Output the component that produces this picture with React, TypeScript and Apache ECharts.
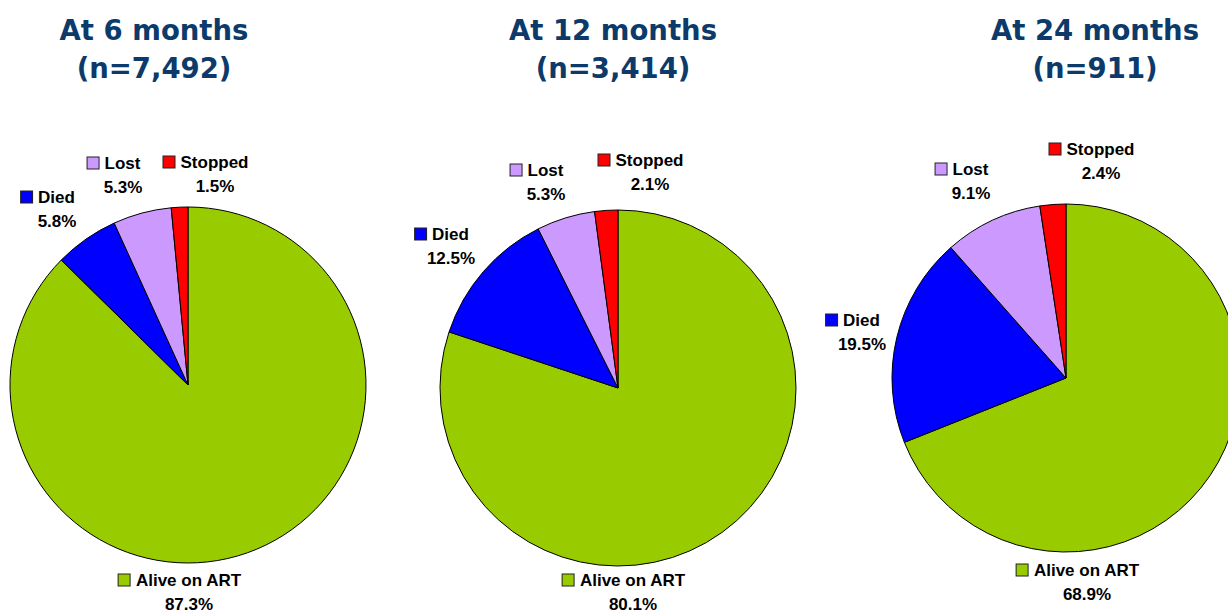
import React, { useEffect, useRef } from "react";
import * as echarts from "echarts";

const categories = ["Alive on ART", "Died", "Lost", "Stopped"];
const month6 = [87.3, 5.8, 5.3, 1.5];
const month12 = [80.1, 12.5, 5.3, 2.1];
const month24 = [68.9, 19.5, 9.1, 2.4];
const titles = ["At 6 months\n(n=7,492)", "At 12 months\n(n=3,414)", "At 24 months\n(n=911)"];
const colors = ["#99CC00", "#0000FF", "#CC99FF", "#FF0000"];

// layout (pixels)
const pies = [
  { center: [188, 385], radius: 178, titleX: 154, labels: [[180, 592], [48, 209], [114, 175], [206, 174]] },
  { center: [618, 388], radius: 178, titleX: 613, labels: [[624, 592], [442, 246], [537, 182], [641, 172]] },
  { center: [1066, 378], radius: 174, titleX: 1095, labels: [[1078, 582], [853, 332], [962, 181], [1092, 161]] },
];

const seriesData = [month6, month12, month24];

export default function App() {
  const ref = useRef<HTMLDivElement>(null);
  useEffect(() => {
    if (!ref.current) return;
    const chart = echarts.init(ref.current, null, { renderer: "svg" });
    const rich: any = {
      name: { fontSize: 17, fontWeight: "bold", fontFamily: "Liberation Sans, Arial, sans-serif", color: "#000", padding: [0, 0, 0, 6], lineHeight: 24 },
      val: { fontSize: 17, fontWeight: "bold", fontFamily: "Liberation Sans, Arial, sans-serif", color: "#000", padding: [0, 0, 0, 18], lineHeight: 24 },
    };
    colors.forEach((c, i) => {
      rich["box" + i] = { width: 11, height: 11, backgroundColor: c, borderColor: "#222", borderWidth: 1 };
    });
    chart.setOption({
      animation: false,
      backgroundColor: "#ffffff",
      title: pies.map((p, i) => ({
        text: titles[i],
        left: p.titleX,
        top: 11,
        padding: 0,
        textAlign: "center",
        textStyle: {
          fontFamily: "DejaVu Sans, Verdana, sans-serif",
          fontWeight: "bold",
          fontSize: 27.5,
          color: "#0B3A6B",
          lineHeight: 38,
        },
      })),
      series: pies.map((p, si) => ({
        type: "pie",
        center: p.center,
        radius: p.radius,
        startAngle: 90,
        clockwise: true,
        avoidLabelOverlap: false,
        itemStyle: { borderColor: "#000", borderWidth: 1 },
        label: {
          show: true,
          position: "outside",
          formatter: (params: any) => `{box${params.dataIndex}|}{name|${params.name}}\n{val|${params.value}%}`,
          rich,
        },
        labelLine: { show: false },
        labelLayout: (params: any) => ({
          x: p.labels[params.dataIndex][0],
          y: p.labels[params.dataIndex][1],
          align: "center",
          verticalAlign: "middle",
        }),
        emphasis: { disabled: true },
        data: categories.map((name, i) => ({
          name,
          value: seriesData[si][i],
          itemStyle: { color: colors[i] },
        })),
      })),
    });
    return () => chart.dispose();
  }, []);
  return <div ref={ref} style={{ position: "fixed", left: 0, top: 0, width: 1228, height: 612 }} />;
}
